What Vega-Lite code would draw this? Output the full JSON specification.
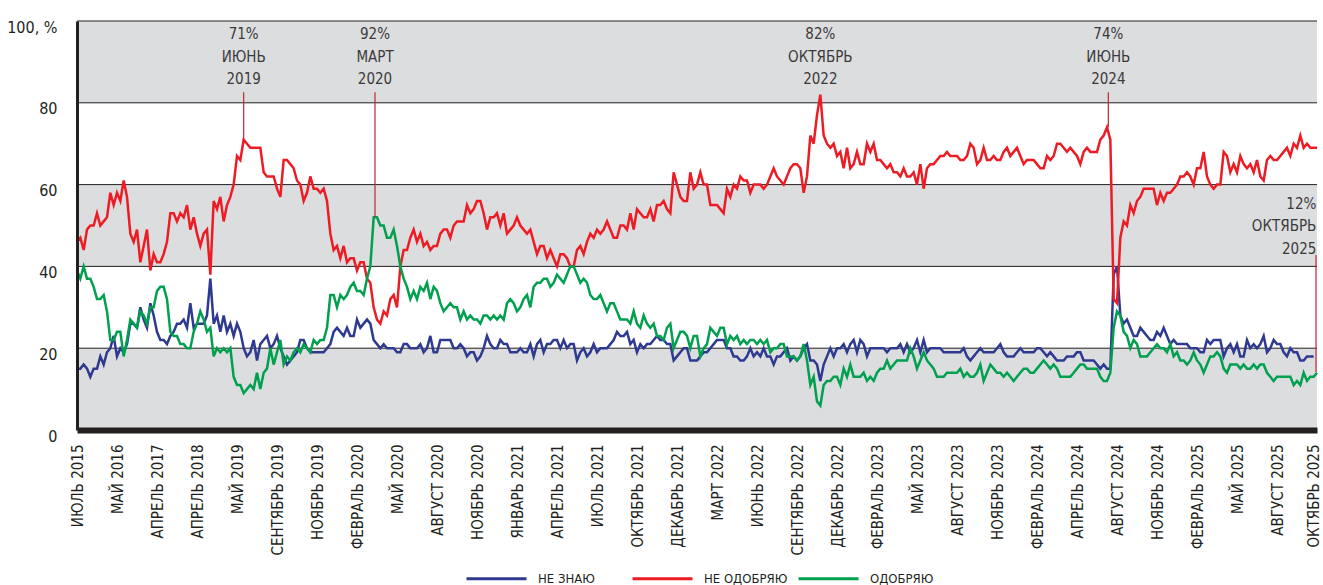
{
"$schema":"https://vega.github.io/schema/vega-lite/v6.json",
"width":1240,"height":409,
"autosize":{"type":"none"},
"padding":{"left":77,"top":21,"right":6,"bottom":155},
"background":"white",
"config":{"font":"Liberation Sans Narrow, DejaVu Sans Condensed, sans-serif","view":{"stroke":null},
 "axis":{"title":null,"grid":false,"ticks":false,"tickSize":0,"labelOverlap":false,"labelBound":false,"labelFlush":false}},
"layer":[
{"data":{"values":[{"lo":0,"hi":20},{"lo":40,"hi":60},{"lo":80,"hi":100}]},
 "mark":{"type":"rect","color":"#dcdddf"},
 "encoding":{"x":{"datum":0,"type":"quantitative","scale":{"domain":[0,372],"nice":false,"zero":false},"title":null},"x2":{"datum":372},
  "y":{"field":"lo","type":"quantitative","scale":{"domain":[0,100],"nice":false},"title":null},"y2":{"field":"hi"}}},
{"data":{"values":[{"v":20},{"v":40},{"v":60},{"v":80},{"v":100}]},
 "mark":{"type":"rule","color":"#231f20","strokeWidth":1},
 "encoding":{"y":{"field":"v","type":"quantitative","scale":{"domain":[0,100],"nice":false},"title":null}}},
{"data":{"values":[
{"i":0,"r":46,"b":15,"g":39},{"i":1,"r":47,"b":15,"g":37},{"i":2,"r":44,"b":16,"g":40},{"i":3,"r":49,"b":15,"g":37},{"i":4,"r":50,"b":13,"g":37},{"i":5,"r":50,"b":15,"g":35},{"i":6,"r":53,"b":15,"g":32},{"i":7,"r":50,"b":18,"g":32},{"i":8,"r":51,"b":16,"g":33},{"i":9,"r":52,"b":19,"g":29},
{"i":10,"r":58,"b":20,"g":22},{"i":11,"r":55,"b":23,"g":22},{"i":12,"r":58,"b":18,"g":24},{"i":13,"r":56,"b":20,"g":24},{"i":14,"r":61,"b":19,"g":18},{"i":15,"r":57,"b":21,"g":22},{"i":16,"r":48,"b":26,"g":27},{"i":17,"r":46,"b":26,"g":26},{"i":18,"r":49,"b":25,"g":25},{"i":19,"r":41,"b":30,"g":29},
{"i":20,"r":45,"b":27,"g":28},{"i":21,"r":49,"b":25,"g":26},{"i":22,"r":39,"b":31,"g":30},{"i":23,"r":43,"b":28,"g":30},{"i":24,"r":41,"b":24,"g":34},{"i":25,"r":41,"b":22,"g":35},{"i":26,"r":43,"b":22,"g":35},{"i":27,"r":46,"b":21,"g":32},{"i":28,"r":53,"b":23,"g":24},{"i":29,"r":53,"b":24,"g":23},
{"i":30,"r":51,"b":26,"g":23},{"i":31,"r":53,"b":26,"g":21},{"i":32,"r":52,"b":27,"g":21},{"i":33,"r":55,"b":25,"g":20},{"i":34,"r":49,"b":31,"g":20},{"i":35,"r":52,"b":25,"g":24},{"i":36,"r":48,"b":26,"g":26},{"i":37,"r":45,"b":26,"g":29},{"i":38,"r":48,"b":26,"g":27},{"i":39,"r":49,"b":28,"g":24},
{"i":40,"r":38,"b":37,"g":25},{"i":41,"r":56,"b":26,"g":18},{"i":42,"r":54,"b":28,"g":20},{"i":43,"r":57,"b":24,"g":19},{"i":44,"r":51,"b":28,"g":20},{"i":45,"r":55,"b":24,"g":19},{"i":46,"r":57,"b":26,"g":20},{"i":47,"r":60,"b":23,"g":13},{"i":48,"r":67,"b":26,"g":11},{"i":49,"r":66,"b":24,"g":11},
{"i":50,"r":71,"b":20,"g":9},{"i":51,"r":70,"b":18,"g":10},{"i":52,"r":69,"b":19,"g":11},{"i":53,"r":69,"b":22,"g":10},{"i":54,"r":69,"b":17,"g":14},{"i":55,"r":69,"b":21,"g":10},{"i":56,"r":63,"b":22,"g":14},{"i":57,"r":62,"b":23,"g":15},{"i":58,"r":62,"b":20,"g":20},{"i":59,"r":62,"b":21,"g":16},
{"i":60,"r":59,"b":23,"g":19},{"i":61,"r":57,"b":20,"g":22},{"i":62,"r":66,"b":18,"g":16},{"i":63,"r":66,"b":16,"g":18},{"i":64,"r":65,"b":17,"g":17},{"i":65,"r":64,"b":18,"g":19},{"i":66,"r":61,"b":19,"g":20},{"i":67,"r":60,"b":22,"g":19},{"i":68,"r":56,"b":22,"g":21},{"i":69,"r":58,"b":20,"g":20},
{"i":70,"r":62,"b":19,"g":19},{"i":71,"r":59,"b":19,"g":22},{"i":72,"r":59,"b":19,"g":21},{"i":73,"r":58,"b":19,"g":22},{"i":74,"r":59,"b":19,"g":22},{"i":75,"r":56,"b":20,"g":25},{"i":76,"r":48,"b":21,"g":33},{"i":77,"r":44,"b":24,"g":33},{"i":78,"r":45,"b":25,"g":30},{"i":79,"r":42,"b":24,"g":33},
{"i":80,"r":45,"b":23,"g":32},{"i":81,"r":41,"b":25,"g":33},{"i":82,"r":42,"b":23,"g":35},{"i":83,"r":42,"b":23,"g":36},{"i":84,"r":39,"b":27,"g":34},{"i":85,"r":41,"b":25,"g":34},{"i":86,"r":41,"b":26,"g":33},{"i":87,"r":37,"b":27,"g":37},{"i":88,"r":36,"b":26,"g":40},{"i":89,"r":30,"b":22,"g":52},
{"i":90,"r":27,"b":21,"g":52},{"i":91,"r":26,"b":20,"g":50},{"i":92,"r":29,"b":21,"g":50},{"i":93,"r":28,"b":20,"g":47},{"i":94,"r":32,"b":20,"g":47},{"i":95,"r":33,"b":20,"g":49},{"i":96,"r":30,"b":19,"g":45},{"i":97,"r":40,"b":19,"g":40},{"i":98,"r":44,"b":21,"g":37},{"i":99,"r":44,"b":21,"g":35},
{"i":100,"r":47,"b":20,"g":32},{"i":101,"r":49,"b":20,"g":34},{"i":102,"r":46,"b":20,"g":32},{"i":103,"r":48,"b":21,"g":35},{"i":104,"r":45,"b":19,"g":34},{"i":105,"r":46,"b":20,"g":36},{"i":106,"r":44,"b":23,"g":32},{"i":107,"r":45,"b":19,"g":35},{"i":108,"r":45,"b":19,"g":34},{"i":109,"r":48,"b":22,"g":31},
{"i":110,"r":49,"b":22,"g":29},{"i":111,"r":49,"b":22,"g":30},{"i":112,"r":47,"b":22,"g":31},{"i":113,"r":50,"b":20,"g":30},{"i":114,"r":51,"b":20,"g":30},{"i":115,"r":51,"b":21,"g":27},{"i":116,"r":51,"b":20,"g":29},{"i":117,"r":55,"b":18,"g":27},{"i":118,"r":53,"b":19,"g":28},{"i":119,"r":54,"b":19,"g":27},
{"i":120,"r":56,"b":17,"g":27},{"i":121,"r":56,"b":18,"g":26},{"i":122,"r":53,"b":20,"g":28},{"i":123,"r":49,"b":23,"g":28},{"i":124,"r":52,"b":21,"g":27},{"i":125,"r":52,"b":20,"g":28},{"i":126,"r":53,"b":20,"g":27},{"i":127,"r":50,"b":22,"g":28},{"i":128,"r":53,"b":21,"g":27},{"i":129,"r":48,"b":21,"g":31},
{"i":130,"r":49,"b":19,"g":32},{"i":131,"r":50,"b":19,"g":31},{"i":132,"r":52,"b":19,"g":29},{"i":133,"r":50,"b":20,"g":30},{"i":134,"r":49,"b":19,"g":32},{"i":135,"r":48,"b":19,"g":33},{"i":136,"r":49,"b":21,"g":30},{"i":137,"r":46,"b":18,"g":35},{"i":138,"r":43,"b":21,"g":36},{"i":139,"r":45,"b":22,"g":36},
{"i":140,"r":45,"b":19,"g":37},{"i":141,"r":42,"b":21,"g":37},{"i":142,"r":44,"b":21,"g":35},{"i":143,"r":42,"b":22,"g":36},{"i":144,"r":40,"b":22,"g":38},{"i":145,"r":43,"b":20,"g":37},{"i":146,"r":43,"b":22,"g":36},{"i":147,"r":42,"b":20,"g":38},{"i":148,"r":40,"b":21,"g":40},{"i":149,"r":40,"b":21,"g":40},
{"i":150,"r":44,"b":17,"g":38},{"i":151,"r":45,"b":19,"g":36},{"i":152,"r":43,"b":20,"g":37},{"i":153,"r":46,"b":18,"g":36},{"i":154,"r":48,"b":19,"g":33},{"i":155,"r":47,"b":21,"g":32},{"i":156,"r":49,"b":19,"g":32},{"i":157,"r":48,"b":20,"g":33},{"i":158,"r":49,"b":20,"g":31},{"i":159,"r":51,"b":20,"g":29},
{"i":160,"r":49,"b":21,"g":31},{"i":161,"r":47,"b":22,"g":31},{"i":162,"r":47,"b":24,"g":29},{"i":163,"r":50,"b":23,"g":27},{"i":164,"r":50,"b":23,"g":27},{"i":165,"r":49,"b":24,"g":27},{"i":166,"r":53,"b":21,"g":26},{"i":167,"r":49,"b":22,"g":29},{"i":168,"r":54,"b":19,"g":26},{"i":169,"r":53,"b":21,"g":25},
{"i":170,"r":52,"b":20,"g":28},{"i":171,"r":52,"b":21,"g":26},{"i":172,"r":54,"b":21,"g":25},{"i":173,"r":51,"b":22,"g":26},{"i":174,"r":55,"b":23,"g":23},{"i":175,"r":55,"b":22,"g":23},{"i":176,"r":56,"b":22,"g":22},{"i":177,"r":54,"b":21,"g":25},{"i":178,"r":53,"b":21,"g":26},{"i":179,"r":63,"b":17,"g":20},
{"i":180,"r":60,"b":18,"g":22},{"i":181,"r":57,"b":19,"g":24},{"i":182,"r":56,"b":20,"g":24},{"i":183,"r":56,"b":20,"g":23},{"i":184,"r":63,"b":17,"g":20},{"i":185,"r":59,"b":17,"g":23},{"i":186,"r":60,"b":17,"g":23},{"i":187,"r":63,"b":18,"g":18},{"i":188,"r":60,"b":19,"g":20},{"i":189,"r":60,"b":19,"g":21},
{"i":190,"r":55,"b":20,"g":25},{"i":191,"r":55,"b":21,"g":24},{"i":192,"r":55,"b":22,"g":23},{"i":193,"r":54,"b":22,"g":25},{"i":194,"r":53,"b":22,"g":25},{"i":195,"r":59,"b":20,"g":21},{"i":196,"r":57,"b":20,"g":23},{"i":197,"r":60,"b":18,"g":22},{"i":198,"r":59,"b":18,"g":23},{"i":199,"r":62,"b":17,"g":21},
{"i":200,"r":61,"b":17,"g":22},{"i":201,"r":61,"b":18,"g":21},{"i":202,"r":58,"b":20,"g":22},{"i":203,"r":60,"b":18,"g":22},{"i":204,"r":60,"b":19,"g":21},{"i":205,"r":60,"b":18,"g":22},{"i":206,"r":59,"b":20,"g":21},{"i":207,"r":60,"b":18,"g":22},{"i":208,"r":62,"b":18,"g":19},{"i":209,"r":64,"b":16,"g":20},
{"i":210,"r":62,"b":18,"g":20},{"i":211,"r":61,"b":18,"g":21},{"i":212,"r":60,"b":19,"g":21},{"i":213,"r":62,"b":20,"g":18},{"i":214,"r":64,"b":17,"g":18},{"i":215,"r":65,"b":18,"g":18},{"i":216,"r":65,"b":17,"g":17},{"i":217,"r":64,"b":18,"g":18},{"i":218,"r":58,"b":20,"g":21},{"i":219,"r":62,"b":21,"g":17},
{"i":220,"r":72,"b":17,"g":11},{"i":221,"r":70,"b":17,"g":13},{"i":222,"r":77,"b":16,"g":7},{"i":223,"r":82,"b":12,"g":6},{"i":224,"r":72,"b":16,"g":11},{"i":225,"r":70,"b":18,"g":12},{"i":226,"r":69,"b":20,"g":12},{"i":227,"r":70,"b":18,"g":13},{"i":228,"r":67,"b":20,"g":13},{"i":229,"r":68,"b":20,"g":11},
{"i":230,"r":64,"b":21,"g":15},{"i":231,"r":69,"b":19,"g":13},{"i":232,"r":64,"b":21,"g":16},{"i":233,"r":65,"b":22,"g":13},{"i":234,"r":68,"b":19,"g":13},{"i":235,"r":65,"b":22,"g":13},{"i":236,"r":65,"b":21,"g":14},{"i":237,"r":70,"b":18,"g":12},{"i":238,"r":68,"b":20,"g":13},{"i":239,"r":70,"b":20,"g":12},
{"i":240,"r":66,"b":20,"g":14},{"i":241,"r":66,"b":20,"g":15},{"i":242,"r":65,"b":20,"g":15},{"i":243,"r":64,"b":19,"g":17},{"i":244,"r":65,"b":20,"g":15},{"i":245,"r":63,"b":20,"g":16},{"i":246,"r":63,"b":20,"g":17},{"i":247,"r":62,"b":21,"g":17},{"i":248,"r":64,"b":19,"g":17},{"i":249,"r":62,"b":21,"g":17},
{"i":250,"r":62,"b":19,"g":20},{"i":251,"r":63,"b":20,"g":18},{"i":252,"r":60,"b":22,"g":15},{"i":253,"r":65,"b":19,"g":17},{"i":254,"r":59,"b":22,"g":19},{"i":255,"r":64,"b":19,"g":17},{"i":256,"r":65,"b":20,"g":16},{"i":257,"r":65,"b":20,"g":15},{"i":258,"r":66,"b":20,"g":13},{"i":259,"r":67,"b":20,"g":13},
{"i":260,"r":67,"b":19,"g":13},{"i":261,"r":68,"b":19,"g":14},{"i":262,"r":67,"b":19,"g":14},{"i":263,"r":67,"b":19,"g":14},{"i":264,"r":67,"b":19,"g":14},{"i":265,"r":66,"b":19,"g":15},{"i":266,"r":66,"b":20,"g":13},{"i":267,"r":67,"b":18,"g":14},{"i":268,"r":70,"b":17,"g":13},{"i":269,"r":69,"b":18,"g":13},
{"i":270,"r":65,"b":19,"g":14},{"i":271,"r":66,"b":20,"g":16},{"i":272,"r":69,"b":19,"g":12},{"i":273,"r":66,"b":19,"g":14},{"i":274,"r":66,"b":19,"g":16},{"i":275,"r":67,"b":19,"g":15},{"i":276,"r":66,"b":20,"g":14},{"i":277,"r":66,"b":21,"g":14},{"i":278,"r":68,"b":19,"g":13},{"i":279,"r":69,"b":18,"g":14},
{"i":280,"r":67,"b":18,"g":13},{"i":281,"r":68,"b":18,"g":12},{"i":282,"r":69,"b":19,"g":13},{"i":283,"r":67,"b":20,"g":14},{"i":284,"r":65,"b":19,"g":15},{"i":285,"r":66,"b":19,"g":15},{"i":286,"r":66,"b":19,"g":14},{"i":287,"r":66,"b":19,"g":14},{"i":288,"r":65,"b":20,"g":15},{"i":289,"r":64,"b":20,"g":16},
{"i":290,"r":64,"b":19,"g":17},{"i":291,"r":67,"b":18,"g":16},{"i":292,"r":66,"b":19,"g":15},{"i":293,"r":67,"b":18,"g":16},{"i":294,"r":70,"b":17,"g":15},{"i":295,"r":70,"b":17,"g":13},{"i":296,"r":69,"b":17,"g":13},{"i":297,"r":68,"b":18,"g":13},{"i":298,"r":69,"b":18,"g":13},{"i":299,"r":68,"b":18,"g":14},
{"i":300,"r":67,"b":19,"g":15},{"i":301,"r":65,"b":19,"g":16},{"i":302,"r":68,"b":17,"g":16},{"i":303,"r":69,"b":17,"g":15},{"i":304,"r":68,"b":17,"g":15},{"i":305,"r":68,"b":17,"g":15},{"i":306,"r":68,"b":16,"g":15},{"i":307,"r":71,"b":15,"g":13},{"i":308,"r":72,"b":16,"g":12},{"i":309,"r":74,"b":15,"g":12},
{"i":310,"r":71,"b":15,"g":14},{"i":311,"r":32,"b":38,"g":25},{"i":312,"r":31,"b":40,"g":29},{"i":313,"r":47,"b":28,"g":28},{"i":314,"r":51,"b":26,"g":24},{"i":315,"r":50,"b":27,"g":23},{"i":316,"r":55,"b":25,"g":20},{"i":317,"r":53,"b":23,"g":22},{"i":318,"r":56,"b":23,"g":21},{"i":319,"r":57,"b":25,"g":18},
{"i":320,"r":59,"b":24,"g":18},{"i":321,"r":59,"b":23,"g":18},{"i":322,"r":59,"b":22,"g":19},{"i":323,"r":59,"b":22,"g":20},{"i":324,"r":55,"b":24,"g":21},{"i":325,"r":58,"b":23,"g":20},{"i":326,"r":56,"b":25,"g":20},{"i":327,"r":58,"b":23,"g":19},{"i":328,"r":58,"b":21,"g":21},{"i":329,"r":59,"b":22,"g":18},
{"i":330,"r":60,"b":21,"g":19},{"i":331,"r":62,"b":21,"g":17},{"i":332,"r":62,"b":21,"g":17},{"i":333,"r":63,"b":21,"g":16},{"i":334,"r":62,"b":20,"g":17},{"i":335,"r":60,"b":20,"g":19},{"i":336,"r":64,"b":20,"g":17},{"i":337,"r":64,"b":19,"g":16},{"i":338,"r":68,"b":19,"g":14},{"i":339,"r":62,"b":22,"g":16},
{"i":340,"r":60,"b":21,"g":18},{"i":341,"r":59,"b":22,"g":18},{"i":342,"r":60,"b":22,"g":19},{"i":343,"r":60,"b":22,"g":18},{"i":344,"r":68,"b":18,"g":15},{"i":345,"r":67,"b":20,"g":14},{"i":346,"r":63,"b":21,"g":16},{"i":347,"r":65,"b":19,"g":16},{"i":348,"r":63,"b":21,"g":16},{"i":349,"r":67,"b":18,"g":15},
{"i":350,"r":65,"b":18,"g":16},{"i":351,"r":64,"b":22,"g":15},{"i":352,"r":65,"b":20,"g":15},{"i":353,"r":63,"b":21,"g":16},{"i":354,"r":66,"b":20,"g":15},{"i":355,"r":62,"b":21,"g":16},{"i":356,"r":61,"b":23,"g":16},{"i":357,"r":66,"b":19,"g":14},{"i":358,"r":67,"b":20,"g":13},{"i":359,"r":66,"b":22,"g":12},
{"i":360,"r":66,"b":21,"g":13},{"i":361,"r":67,"b":21,"g":13},{"i":362,"r":68,"b":19,"g":13},{"i":363,"r":69,"b":18,"g":13},{"i":364,"r":67,"b":20,"g":13},{"i":365,"r":70,"b":19,"g":11},{"i":366,"r":69,"b":19,"g":12},{"i":367,"r":72,"b":17,"g":11},{"i":368,"r":69,"b":17,"g":14},{"i":369,"r":70,"b":18,"g":12},
{"i":370,"r":69,"b":18,"g":13},{"i":371,"r":69,"b":18,"g":13},{"i":372,"r":69,"g":14}
]},
 "transform":[{"fold":["b","r","g"],"as":["s","v"]}],
 "mark":{"type":"line","strokeWidth":2.5},
 "encoding":{
  "x":{"field":"i","type":"quantitative","scale":{"domain":[0,372],"nice":false,"zero":false},"title":null,
   "axis":{"values":[0,12,24,36,48,60,72,84,96,108,120,132,144,156,168,180,192,204,216,228,240,252,264,276,288,300,312,324,336,348,360,372],"tickCount":40,
    "labelExpr":"['ИЮЛЬ 2015','МАЙ 2016','АПРЕЛЬ 2017','АПРЕЛЬ 2018','МАЙ 2019','СЕНТЯБРЬ 2019','НОЯБРЬ 2019','ФЕВРАЛЬ 2020','МАЙ 2020','АВГУСТ 2020','НОЯБРЬ 2020','ЯНВАРЬ 2021','АПРЕЛЬ 2021','ИЮЛЬ 2021','ОКТЯБРЬ 2021','ДЕКАБРЬ 2021','МАРТ 2022','ИЮНЬ 2022','СЕНТЯБРЬ 2022','ДЕКАБРЬ 2022','ФЕВРАЛЬ 2023','МАЙ 2023','АВГУСТ 2023','НОЯБРЬ 2023','ФЕВРАЛЬ 2024','АПРЕЛЬ 2024','АВГУСТ 2024','НОЯБРЬ 2024','ФЕВРАЛЬ 2025','МАЙ 2025','АВГУСТ 2025','ОКТЯБРЬ 2025'][round(datum.value/12)]",
    "labelAngle":270,"labelAlign":"right","labelBaseline":"middle","labelFontSize":15,"labelColor":"#231f20","labelPadding":14,
    "labelOffset":{"condition":{"test":"datum.value == 372","value":-4},"value":0},
    "ticks":false,"tickSize":0,"grid":false,"domainColor":"#231f20","domainWidth":6,"title":null,"labelOverlap":false,"labelFlush":false,"labelBound":false,"zindex":1}},
  "y":{"field":"v","type":"quantitative","scale":{"domain":[0,100],"nice":false},"title":null,
   "axis":{"values":[0,20,40,60,80,100],"tickCount":10,"labelExpr":"datum.value == 100 ? '100, %' : datum.label",
    "labelFontSize":16,"labelColor":"#231f20","labelPadding":20,"labelOffset":6,"ticks":false,"tickSize":0,"grid":false,
    "domainColor":"#231f20","domainWidth":3,"title":null,"zindex":1,"labelBound":false,"labelFlush":false}},
  "color":{"field":"s","type":"nominal","scale":{"domain":["b","r","g"],"range":["#2e3a8f","#ed1c24","#00a04f"]},
   "legend":{"orient":"none","legendX":388,"legendY":526,"direction":"horizontal","columns":3,"gridAlign":"all","columnPadding":4,
    "symbolType":"stroke","symbolSize":3600,"symbolStrokeWidth":3,"labelFontSize":13,"labelColor":"#231f20","labelOffset":10,"title":null,"padding":0,
    "labelExpr":"datum.label == 'b' ? 'НЕ ЗНАЮ' : datum.label == 'r' ? 'НЕ ОДОБРЯЮ' : 'ОДОБРЯЮ'"}}
 }},
{"data":{"values":[{"i":50,"lo":71,"hi":82.6},{"i":89.4,"lo":52,"hi":82.6},{"i":309.4,"lo":74,"hi":82.6},{"i":371.7,"lo":14.2,"hi":42.8}]},
 "mark":{"type":"rule","color":"#c1272d","strokeWidth":1.2},
 "encoding":{"x":{"field":"i","type":"quantitative","scale":{"domain":[0,372],"nice":false,"zero":false},"title":null},
  "y":{"field":"lo","type":"quantitative","scale":{"domain":[0,100],"nice":false},"title":null},"y2":{"field":"hi"}}},
{"data":{"values":[{"i":50,"y":98.5,"t":"71%\nИЮНЬ\n2019"},{"i":89.4,"y":98.5,"t":"92%\nМАРТ\n2020"},{"i":223,"y":98.5,"t":"82%\nОКТЯБРЬ\n2022"},{"i":309.4,"y":98.5,"t":"74%\nИЮНЬ\n2024"}]},
 "mark":{"type":"text","align":"center","baseline":"top","fontSize":15,"lineHeight":22.5,"lineBreak":"\n","color":"#3a3a3a"},
 "encoding":{"x":{"field":"i","type":"quantitative","scale":{"domain":[0,372],"nice":false,"zero":false},"title":null},
  "y":{"field":"y","type":"quantitative","scale":{"domain":[0,100],"nice":false},"title":null},"text":{"field":"t"}}},
{"data":{"values":[{"i":371.8,"y":57,"t":"12%\nОКТЯБРЬ\n2025"}]},
 "mark":{"type":"text","align":"right","baseline":"top","fontSize":15,"lineHeight":22.5,"lineBreak":"\n","color":"#3a3a3a"},
 "encoding":{"x":{"field":"i","type":"quantitative","scale":{"domain":[0,372],"nice":false,"zero":false},"title":null},
  "y":{"field":"y","type":"quantitative","scale":{"domain":[0,100],"nice":false},"title":null},"text":{"field":"t"}}}
]
}
